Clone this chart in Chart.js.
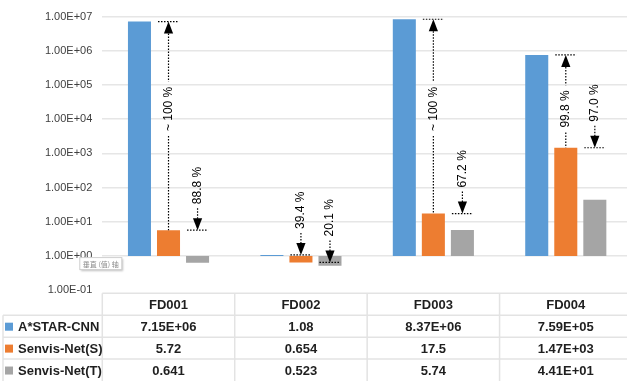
<!DOCTYPE html>
<html>
<head>
<meta charset="utf-8">
<script src="https://cdn.jsdelivr.net/npm/chart.js@4/dist/chart.umd.min.js"></script>
<style>
  html, body { margin: 0; padding: 0; background: #fff; overflow: hidden; }
  #wrap { width: 627px; height: 381px; overflow: hidden; }
  canvas { display: block; }
</style>
</head>
<body>
<div id="wrap"><canvas id="c" width="632" height="381"></canvas></div>
<script>
// Error per test set, log scale, bars rising or falling from 1.
const categories = ['FD001', 'FD002', 'FD003', 'FD004'];
const seriesNames = ['A*STAR-CNN', 'Senvis-Net(S)', 'Senvis-Net(T)'];
const seriesColors = ['#5B9BD5', '#ED7D31', '#A5A5A5'];

const astarCnn = [7.15e6, 1.08, 8.37e6, 7.59e5];
const senvisS  = [5.72, 0.654, 17.5, 1.47e3];
const senvisT  = [0.641, 0.523, 5.74, 44.1];

const astarCnnText = ['7.15E+06', '1.08', '8.37E+06', '7.59E+05'];
const senvisSText  = ['5.72', '0.654', '17.5', '1.47E+03'];
const senvisTText  = ['0.641', '0.523', '5.74', '4.41E+01'];

const yTicks = [1e-1, 1e0, 1e1, 1e2, 1e3, 1e4, 1e5, 1e6, 1e7];

// Reduction arrows: category, reference series, compared series, label, style
const reductionCats   = [0, 0, 1, 1, 2, 2, 3, 3];
const reductionFrom   = [0, 1, 0, 1, 0, 1, 0, 1];
const reductionTo     = [1, 2, 1, 2, 1, 2, 1, 2];
const reductionLabels = ['~ 100 %', '88.8 %', '39.4 %', '20.1 %', '~ 100 %', '67.2 %', '99.8 %', '97.0 %'];
const reductionStyle  = ['span', 'drop', 'drop', 'drop', 'span', 'drop', 'span', 'drop'];

const allValues = [astarCnn, senvisS, senvisT];
const allTexts = [astarCnnText, senvisSText, senvisTText];

function sciLabel(v) {
  const parts = v.toExponential(2).toUpperCase().split('E');
  const e = parseInt(parts[1], 10);
  return parts[0] + 'E' + (e < 0 ? '-' : '+') + String(Math.abs(e)).padStart(2, '0');
}

function dotted(ctx, x1, y1, x2, y2) {
  ctx.save();
  ctx.strokeStyle = '#000';
  ctx.lineWidth = 1.2;
  ctx.setLineDash([1.5, 1.5]);
  ctx.beginPath();
  ctx.moveTo(x1, y1);
  ctx.lineTo(x2, y2);
  ctx.stroke();
  ctx.restore();
}

function arrowHead(ctx, x, tipY, dir) {
  // dir = -1 points up, +1 points down
  const h = 12, w = 4.6;
  ctx.save();
  ctx.fillStyle = '#000';
  ctx.beginPath();
  ctx.moveTo(x, tipY);
  ctx.lineTo(x - w, tipY - dir * h);
  ctx.lineTo(x + w, tipY - dir * h);
  ctx.closePath();
  ctx.fill();
  ctx.restore();
}

const reductionPlugin = {
  id: 'reductions',
  afterDatasetsDraw(chart) {
    const ctx = chart.ctx;
    const y = chart.scales.y;
    ctx.save();
    ctx.font = '12px "Liberation Sans", Arial, sans-serif';
    ctx.fillStyle = '#000';
    for (let i = 0; i < reductionLabels.length; i++) {
      const c = reductionCats[i];
      const bar = chart.getDatasetMeta(reductionTo[i]).data[c];
      const x = bar.x;
      const halfW = bar.width / 2 - 1;
      const refY = y.getPixelForValue(allValues[reductionFrom[i]][c]);
      const toY = y.getPixelForValue(allValues[reductionTo[i]][c]);
      const label = reductionLabels[i];
      const tw = ctx.measureText(label).width;
      dotted(ctx, x - halfW, refY, x + halfW, refY);
      if (reductionStyle[i] === 'span') {
        arrowHead(ctx, x, refY, -1);
        const mid = y.getPixelForValue(2e4);
        const gapTop = mid - tw / 2 - 5, gapBottom = mid + tw / 2 + 5;
        dotted(ctx, x, refY + 12, x, gapTop);
        dotted(ctx, x, gapBottom, x, toY);
        ctx.save();
        ctx.translate(x, mid);
        ctx.rotate(-Math.PI / 2);
        ctx.textAlign = 'center';
        ctx.textBaseline = 'middle';
        ctx.fillText(label, 0, 0);
        ctx.restore();
      } else {
        const shaftTop = refY - 22;
        dotted(ctx, x, shaftTop, x, refY - 11);
        arrowHead(ctx, x, refY, 1);
        ctx.save();
        ctx.translate(x, shaftTop - 4);
        ctx.rotate(-Math.PI / 2);
        ctx.textAlign = 'left';
        ctx.textBaseline = 'middle';
        ctx.fillText(label, 0, 0);
        ctx.restore();
      }
    }
    ctx.restore();
  }
};

const tablePlugin = {
  id: 'dataTable',
  afterDraw(chart) {
    const ctx = chart.ctx;
    const a = chart.chartArea;
    const xs = chart.scales.x;
    const catW = (a.right - a.left) / categories.length;
    const top = a.bottom + 3;
    const rowH = (chart.height - top) / 4;
    const leftEdge = 3;
    ctx.save();
    ctx.strokeStyle = '#e3e3e3';
    ctx.lineWidth = 1.5;
    ctx.beginPath();
    ctx.moveTo(a.left, top); ctx.lineTo(a.right, top);
    for (let r = 1; r < 4; r++) {
      ctx.moveTo(leftEdge, top + r * rowH); ctx.lineTo(a.right, top + r * rowH);
    }
    for (let k = 0; k <= categories.length; k++) {
      ctx.moveTo(a.left + k * catW, top); ctx.lineTo(a.left + k * catW, chart.height);
    }
    ctx.moveTo(leftEdge, top + rowH); ctx.lineTo(leftEdge, chart.height);
    ctx.stroke();

    ctx.font = 'bold 13px "Liberation Sans", Arial, sans-serif';
    ctx.fillStyle = '#1f1f1f';
    ctx.textBaseline = 'middle';
    ctx.textAlign = 'center';
    categories.forEach((c, k) => {
      ctx.fillText(c, xs.getPixelForValue(k), top + rowH / 2 + 1);
    });
    for (let s = 0; s < seriesNames.length; s++) {
      const cy = top + (s + 1.5) * rowH + 1;
      ctx.fillStyle = seriesColors[s];
      ctx.fillRect(5, cy - 4.5, 8, 8);
      ctx.fillStyle = '#1f1f1f';
      ctx.textAlign = 'left';
      ctx.fillText(seriesNames[s], 18, cy);
      ctx.textAlign = 'center';
      allTexts[s].forEach((t, k) => ctx.fillText(t, xs.getPixelForValue(k), cy));
    }

    // axis hover tag next to the 1.00E+00 tick
    const ty = chart.scales.y.getPixelForValue(1) + 1.5;
    const tx = a.left - 22.5;
    ctx.shadowColor = 'rgba(0,0,0,0.25)';
    ctx.shadowBlur = 2;
    ctx.shadowOffsetX = 1;
    ctx.shadowOffsetY = 1;
    ctx.fillStyle = '#fff';
    ctx.fillRect(tx, ty, 42, 12);
    ctx.shadowColor = 'transparent';
    ctx.strokeStyle = '#cfcfcf';
    ctx.lineWidth = 1;
    ctx.strokeRect(tx, ty, 42, 12);
    ctx.font = '7px "Noto Sans CJK SC", sans-serif';
    ctx.fillStyle = '#8c8c8c';
    ctx.textAlign = 'center';
    ctx.fillText('垂直 (值) 轴', tx + 21, ty + 6.5);
    ctx.restore();
  }
};

new Chart(document.getElementById('c'), {
  type: 'bar',
  data: {
    labels: categories,
    datasets: seriesNames.map((name, s) => ({
      label: name,
      data: allValues[s].map(v => [1, v]),
      backgroundColor: seriesColors[s],
      borderWidth: 0,
      categoryPercentage: 0.658,
      barPercentage: 0.793
    }))
  },
  options: {
    responsive: false,
    animation: false,
    devicePixelRatio: 1,
    layout: { padding: { top: 16, bottom: 90.7, left: 0, right: 0 } },
    plugins: { legend: { display: false }, tooltip: { enabled: false } },
    scales: {
      x: { type: 'category', display: false },
      y: {
        type: 'logarithmic',
        min: 1e-1,
        max: 1e7,
        afterFit(scale) { scale.width = 102.3; },
        afterBuildTicks(scale) { scale.ticks = yTicks.map(v => ({ value: v })); },
        border: { display: false },
        grid: {
          drawTicks: false,
          lineWidth: 1.5,
          color: c => (c.tick && c.tick.value === 1e-1) ? 'rgba(0,0,0,0)' : '#e6e6e6'
        },
        ticks: {
          padding: 10,
          color: '#404040',
          font: { family: '"Liberation Sans", Arial, sans-serif', size: 11 },
          callback: v => sciLabel(v)
        }
      }
    }
  },
  plugins: [reductionPlugin, tablePlugin]
});
</script>
</body>
</html>
